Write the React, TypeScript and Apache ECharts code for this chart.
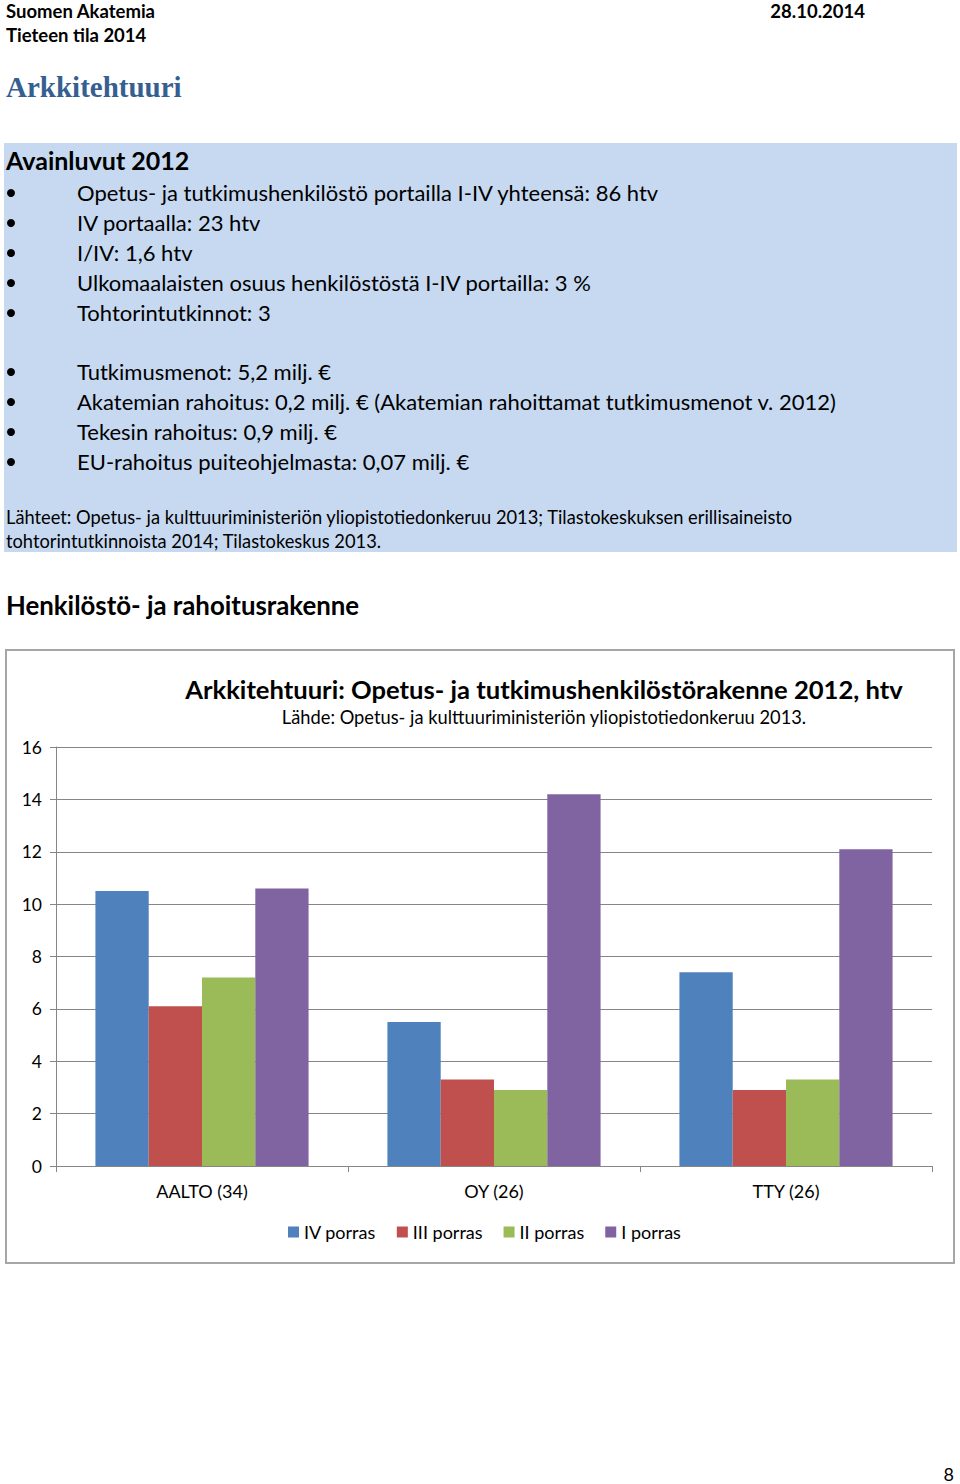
import React, { useEffect, useRef } from "react";
import * as echarts from "echarts";

const categories = ["AALTO (34)", "OY (26)", "TTY (26)"];
const seriesNames = ["IV porras", "III porras", "II porras", "I porras"];
const ivPorras = [10.5, 5.5, 7.4];
const iiiPorras = [6.1, 3.3, 2.9];
const iiPorras = [7.2, 2.9, 3.3];
const iPorras = [10.6, 14.2, 12.1];
const colors = ["#4f81bd", "#c0504d", "#9bbb59", "#8064a2"];

const keyFiguresPeople = [
  "Opetus- ja tutkimushenkilöstö portailla I-IV yhteensä: 86 htv",
  "IV portaalla: 23 htv",
  "I/IV: 1,6 htv",
  "Ulkomaalaisten osuus henkilöstöstä I-IV portailla: 3 %",
  "Tohtorintutkinnot: 3",
];
const keyFiguresMoney = [
  "Tutkimusmenot: 5,2 milj. €",
  "Akatemian rahoitus: 0,2 milj. € (Akatemian rahoittamat tutkimusmenot v. 2012)",
  "Tekesin rahoitus: 0,9 milj. €",
  "EU-rahoitus puiteohjelmasta: 0,07 milj. €",
];
const sources = [
  "Lähteet: Opetus- ja kulttuuriministeriön yliopistotiedonkeruu 2013; Tilastokeskuksen erillisaineisto",
  "tohtorintutkinnoista 2014; Tilastokeskus 2013.",
];

const FONT = "Lato, 'Open Sans', sans-serif";

const txt = (text: string, x: number, y: number, size: number, extra: any = {}) => ({
  type: "text",
  x,
  y,
  style: {
    text,
    fontFamily: FONT,
    fontSize: size,
    fill: "#000",
    verticalAlign: "middle",
    ...extra,
  },
});

const App: React.FC = () => {
  const chartRef = useRef<HTMLDivElement>(null);

  useEffect(() => {
    if (!chartRef.current) return;
    const chart = echarts.init(chartRef.current, null, { renderer: "svg" });

    const graphics: any[] = [
      txt("Suomen Akatemia", 6, 11, 18.5, { fontWeight: "bold" }),
      txt("28.10.2014", 865, 11, 18.5, { fontWeight: "bold", align: "right" }),
      txt("Tieteen tila 2014", 6, 35, 18.5, { fontWeight: "bold" }),
      txt("Arkkitehtuuri", 6, 87, 29, {
        fontWeight: "bold",
        fontFamily: "'Liberation Serif', 'DejaVu Serif', serif",
        fill: "#365f91",
      }),
      {
        type: "rect",
        shape: { x: 4, y: 143, width: 953, height: 409 },
        style: { fill: "#c6d9f1" },
        z: -1,
      },
      txt("Avainluvut 2012", 6, 160, 25, { fontWeight: "bold" }),
    ];

    const bulletRows = [
      ...keyFiguresPeople.map((t, i) => ({ t, y: 192 + i * 30 })),
      ...keyFiguresMoney.map((t, i) => ({ t, y: 371 + i * 30 })),
    ];
    bulletRows.forEach(({ t, y }) => {
      graphics.push({
        type: "circle",
        shape: { cx: 11, cy: y + 1, r: 4 },
        style: { fill: "#000" },
      });
      graphics.push(txt(t, 77, y, 22));
    });
    sources.forEach((t, i) => graphics.push(txt(t, 6, 517 + i * 24, 18.3)));
    graphics.push(txt("Henkilöstö- ja rahoitusrakenne", 6, 605, 25.8, { fontWeight: "bold" }));
    graphics.push({
      type: "rect",
      shape: { x: 6, y: 650, width: 948, height: 613 },
      style: { fill: "#fff", stroke: "#a6a6a6", lineWidth: 2 },
      z: -1,
    });
    graphics.push(txt("8", 954, 1474, 18, { align: "right" }));

    chart.setOption({
      animation: false,
      textStyle: { fontFamily: FONT },
      title: {
        text: "Arkkitehtuuri: Opetus- ja tutkimushenkilöstörakenne 2012, htv",
        subtext: "Lähde: Opetus- ja kulttuuriministeriön yliopistotiedonkeruu 2013.",
        left: 539,
        textAlign: "center",
        top: 671,
        itemGap: 6,
        textStyle: { fontFamily: FONT, fontSize: 25.6, fontWeight: "bold", color: "#000" },
        subtextStyle: { fontFamily: FONT, fontSize: 18.3, color: "#000" },
      },
      legend: {
        data: seriesNames,
        bottom: 1484 - 1246,
        left: 283,
        icon: "rect",
        itemWidth: 11,
        itemHeight: 11,
        itemGap: 21,
        textStyle: { fontFamily: FONT, fontSize: 18, color: "#000" },
      },
      grid: { left: 56, right: 28, top: 747, bottom: 1484 - 1166 },
      xAxis: {
        type: "category",
        data: categories,
        axisLine: { lineStyle: { color: "#868686", width: 1 } },
        axisTick: { show: true, length: 6, lineStyle: { color: "#868686" } },
        axisLabel: { color: "#000", fontSize: 18, margin: 16, fontFamily: FONT },
      },
      yAxis: {
        type: "value",
        min: 0,
        max: 16,
        interval: 2,
        axisLine: { show: true, lineStyle: { color: "#868686" } },
        axisTick: { show: true, length: 6, lineStyle: { color: "#868686" } },
        axisLabel: { color: "#000", fontSize: 17.5, margin: 14, fontFamily: FONT },
        splitLine: { lineStyle: { color: "#868686", width: 1 } },
      },
      graphic: graphics,
      series: [ivPorras, iiiPorras, iiPorras, iPorras].map((d, i) => ({
        name: seriesNames[i],
        type: "bar",
        data: d,
        barGap: "0%",
        barCategoryGap: "27%",
        itemStyle: { color: colors[i] },
      })),
    });

    return () => chart.dispose();
  }, []);

  return (
    <div
      ref={chartRef}
      style={{ position: "absolute", left: 0, top: 0, width: 960, height: 1484, background: "#fff" }}
    />
  );
};

export default App;
